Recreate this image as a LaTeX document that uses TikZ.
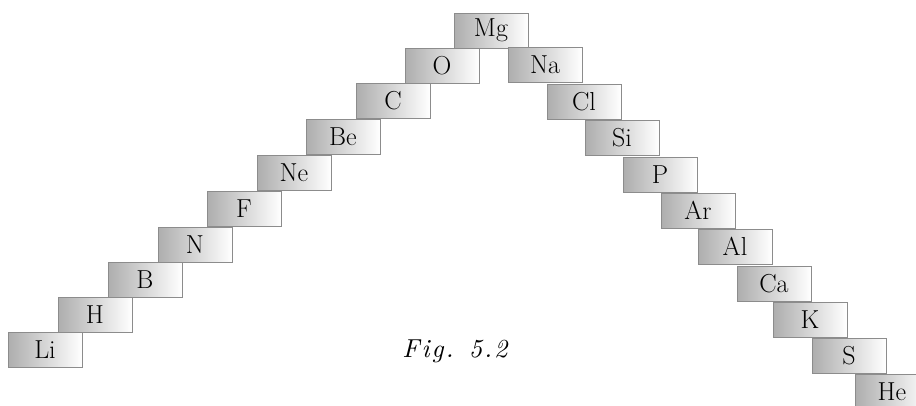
\documentclass[tikz,border=0pt]{standalone}
\usepackage{fontspec}
\newfontfamily\figfont[LetterSpace=8]{lmroman10-italic.otf}
\begin{document}
\begin{tikzpicture}[x=1pt, y=-1pt,
    elem/.style={draw=black!45, line width=1pt, left color=black!32, right color=white,
      minimum width=74pt, minimum height=35pt, inner sep=0pt,
      font=\fontsize{26}{30}\selectfont}]
  \useasboundingbox (0,0) rectangle (916,405);
  % la subida
  \foreach \el/\x/\y in {Li/45/349.5, H/95/314.5, B/145/279.5, N/195/244.5, F/244/208.5,
      Ne/294/172.5, Be/343/136.5, C/393/100.5, O/442/65.5, Mg/491/30.5} {
    \node[elem] (\el) at (\x,\y) {\el};
  }
  % la bajada
  \foreach \el/\x/\y in {Na/545/64.5, Cl/584/101.5, Si/622/137.5, P/660/174.5, Ar/698/210.5,
      Al/735/246.5, Ca/774/283.5, K/810/319.5, S/849/355.5, He/892/391.5} {
    \node[elem] (\el) at (\x,\y) {\el};
  }
  % el pie
  \node[anchor=base, font=\figfont\fontsize{26}{30}\selectfont]
    (fig) at (455,357) {Fig. 5.2};
\end{tikzpicture}
\end{document}
